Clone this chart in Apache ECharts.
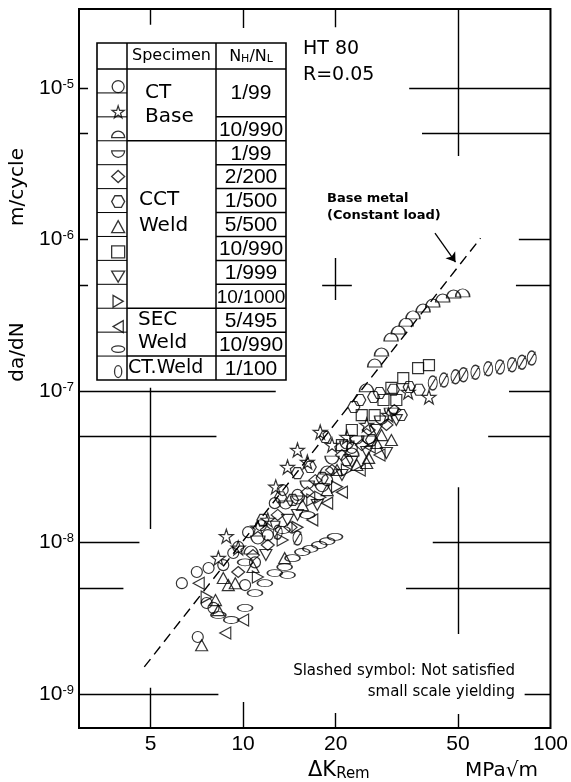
<!DOCTYPE html>
<html><head><meta charset="utf-8">
<script src="https://cdn.jsdelivr.net/npm/echarts@6/dist/echarts.min.js"></script>
<style>html,body{margin:0;padding:0;background:#fff}#c{width:571px;height:782px}</style>
</head><body><div id="c"></div><script>
// ---------- data ----------
const xTicks = [5, 10, 20, 50, 100];
const yTicks = [1e-9, 1e-8, 1e-7, 1e-6, 1e-5];

const ctBaseCircle = [[6.32,5.39e-9],[7.07,6.39e-9],[7.72,6.79e-9],[8.62,7.10e-9],[9.29,8.53e-9],[10.15,5.24e-9],[10.38,1.17e-8],[10.93,7.40e-9],[11.43,1.30e-8],[7.61,3.99e-9],[7.12,2.38e-9],[13.45,2.22e-8],[12.68,1.82e-8],[8.01,3.70e-9],[9.64,9.35e-9],[12.03,1.12e-8],[15.03,2.06e-8],[18.77,2.58e-8],[22.58,4.21e-8]];
const ctBaseStar = [[8.82,1.10e-8],[8.31,7.89e-9],[12.77,2.33e-8],[13.95,3.15e-8],[15.03,4.08e-8],[17.82,5.36e-8],[29.70,6.94e-8],[40.24,9.13e-8],[21.76,4.97e-8],[34.44,9.85e-8],[12.03,1.41e-8],[9.64,9.22e-9],[11.17,1.25e-8],[16.18,3.40e-8],[19.47,4.40e-8],[25.24,5.97e-8]];
const ctBaseDome = [[25.2,1.05e-7],[26.8,1.53e-7],[28.2,1.81e-7],[30.3,2.27e-7],[32.0,2.53e-7],[33.9,2.85e-7],[35.7,3.18e-7],[38.5,3.53e-7],[41.4,3.81e-7],[44.6,4.11e-7],[48.4,4.37e-7],[51.8,4.44e-7],[10.61,8.92e-9],[18.77,3.01e-8],[22.58,3.96e-8]];
const cctCup = [[11.17,1.04e-8],[13.75,1.77e-8],[16.18,2.40e-8],[19.47,3.50e-8],[23.44,4.75e-8],[28.20,6.43e-8],[12.49,1.30e-8],[15.03,1.91e-8],[18.08,2.30e-8],[21.76,4.40e-8],[25.62,4.75e-8],[30.37,7.26e-8]];
const cctDiamond = [[14.27,1.26e-8],[12.03,9.63e-9],[17.17,2.58e-8],[20.97,3.78e-8],[25.62,5.53e-8],[31.06,7.49e-8],[9.64,6.39e-9],[12.96,1.52e-8],[16.18,2.15e-8],[19.47,3.01e-8],[24.32,4.40e-8],[29.26,5.97e-8],[10.77,8.27e-9]];
const cctHexagon = [[15.03,2.87e-8],[16.54,3.15e-8],[18.49,4.97e-8],[22.92,7.84e-8],[23.96,8.72e-8],[26.58,9.13e-8],[27.78,9.70e-8],[30.83,1.02e-7],[34.70,1.063e-7],[37.36,1.02e-7],[13.25,1.99e-8],[11.60,1.41e-8],[14.48,1.91e-8],[18.08,2.67e-8],[21.76,3.50e-8],[26.18,4.75e-8],[32.70,6.94e-8]];
const cctTriUp = [[8.62,5.83e-9],[9.43,5.39e-9],[8.13,4.17e-9],[8.31,3.58e-9],[7.33,2.10e-9],[13.65,7.89e-9],[27.17,4.54e-8],[30.37,4.75e-8],[25.62,3.62e-8],[25.24,3.35e-8],[10.77,6.89e-9],[8.95,5.24e-9],[20.21,3.01e-8],[15.59,1.77e-8],[18.77,2.22e-8],[23.44,3.25e-8],[28.20,5.12e-8]];
const cctSquare = [[37.09,1.418e-7],[40.24,1.484e-7],[33.19,1.218e-7],[30.37,1.05e-7],[28.62,8.72e-8],[24.32,6.94e-8],[20.97,4.40e-8],[22.58,5.53e-8],[26.79,6.94e-8],[31.51,8.72e-8]];
const cctTriDown = [[29.26,3.90e-8],[17.43,1.77e-8],[15.03,1.52e-8],[22.58,3.40e-8],[11.86,8.27e-9],[27.17,5.53e-8],[13.95,1.41e-8],[20.97,2.79e-8],[25.24,3.96e-8],[31.51,6.43e-8]];
const cctTriRight = [[15.03,1.26e-8],[17.82,1.99e-8],[7.61,4.36e-9],[11.17,5.92e-9],[20.21,2.33e-8],[13.45,1.04e-8],[16.79,1.91e-8],[21.76,3.01e-8]];
const secTriLeft = [[7.17,5.39e-9],[10.0,3.08e-9],[8.75,2.53e-9],[23.96,3.01e-8],[25.81,4.27e-8],[16.79,1.41e-8],[18.77,1.82e-8],[20.97,2.15e-8],[27.78,3.78e-8]];
const secEllipse = [[9.15,3.08e-9],[10.15,3.70e-9],[10.93,4.64e-9],[11.77,5.39e-9],[12.68,6.29e-9],[13.65,6.89e-9],[14.48,7.89e-9],[15.59,8.66e-9],[16.54,9.09e-9],[17.69,9.63e-9],[18.77,1.02e-8],[19.91,1.09e-8],[10.15,7.40e-9],[13.95,6.10e-9],[8.31,3.32e-9],[13.45,1.21e-8],[16.18,1.52e-8]];
const ctWeldZero = [[41.4,1.13e-7],[45.0,1.18e-7],[49.1,1.24e-7],[52.1,1.28e-7],[57.0,1.33e-7],[62.7,1.40e-7],[68.5,1.44e-7],[75.0,1.49e-7],[80.8,1.55e-7],[86.9,1.65e-7],[12.96,1.17e-8],[15.03,1.07e-8]];

const baseMetalLine = [[4.77,1.51e-9],[59.2,1.02e-6]];
const arrowCoords = [[42.1,1.10e-6],[49.1,7.10e-7]];

// graph-paper cross segments [x1,y1,x2,y2] in data units
const gridSegments = [
  [2.925,1e-5,3.13,1e-5],[2.925,5e-6,3.13,5e-6],[2.925,1e-6,3.13,1e-6],[2.925,5e-7,3.13,5e-7],
  [2.925,1e-7,12.77,1e-7],[2.925,5e-8,8.19,5e-8],[2.925,1e-8,4.60,1e-8],[2.925,5e-9,4.08,5e-9],[2.925,1e-9,8.31,1e-9],
  [34.7,1e-5,100,1e-5],[38.2,5e-6,100,5e-6],[78.9,1e-6,100,1e-6],[77.2,5e-7,100,5e-7],[73.3,1e-7,100,1e-7],
  [62.7,5e-8,100,5e-8],[41.4,1e-8,100,1e-8],[33.9,5e-9,100,5e-9],[82.4,1e-9,100,1e-9],
  [5,3.32e-5,5,2.61e-5],[10,3.32e-5,10,2.49e-5],[20,3.32e-5,20,2.52e-5],[50,3.32e-5,50,3.56e-6],
  [5,5.97e-10,5,1.10e-9],[10,5.97e-10,10,8.86e-10],[20,5.97e-10,20,7.49e-10],[50,5.97e-10,50,7.38e-10],
  [5,1.05e-7,5,1.23e-8],[20,7.55e-7,20,3.99e-7],[18.08,5e-7,22.58,5e-7],[50,2.32e-8,50,2.49e-9]
];

const specimenNames = ['CT Base', 'CCT Weld', 'SEC Weld', 'CT.Weld'];
const ratioLabels = ['1/99','10/990','1/99','2/200','1/500','5/500','10/990','1/999','10/1000','5/495','10/990','1/100'];
const seriesNames = ['CT Base 1/99 circle','CT Base 1/99 star','CT Base 10/990','CCT Weld 1/99','CCT Weld 2/200','CCT Weld 1/500','CCT Weld 5/500','CCT Weld 10/990','CCT Weld 1/999','CCT Weld 10/1000','SEC Weld 5/495','SEC Weld 10/990','CT.Weld 1/100'];

// ---------- styling ----------
const SANS = "'Liberation Sans', Arial, sans-serif";
const WIDE = "'DejaVu Sans', sans-serif";
const SYM = {
  star: 'path://M10,0 L12.35,7.24 L19.51,7.24 L13.71,11.71 L15.88,19 L10,14.5 L4.12,19 L6.29,11.71 L0.49,7.24 L7.65,7.24 Z',
  dome: 'path://M0,10 A10,10 0 0 1 20,10 Z',
  cup: 'path://M0,0 A10,10 0 0 0 20,0 Z',
  hex: 'path://M5,0 L15,0 L20,9 L15,18 L5,18 L0,9 Z',
  triDown: 'path://M0,0 L20,0 L10,17 Z',
  triRight: 'path://M0,0 L17,10 L0,20 Z',
  triLeft: 'path://M17,0 L0,10 L17,20 Z',
  ellipse: 'path://M0,5 A10,5 0 1 1 20,5 A10,5 0 1 1 0,5 Z',
  zero: 'path://M6,0 A6,10 0 1 1 6,20 A6,10 0 1 1 6,0 Z M1,19 L11,1',
  zeroPlain: 'path://M6,0 A6,10 0 1 1 6,20 A6,10 0 1 1 6,0 Z'
};
const seriesDefs = [
  [ctBaseCircle,'circle',11],[ctBaseStar,SYM.star,14],[ctBaseDome,SYM.dome,[14,8]],
  [cctCup,SYM.cup,[14,8]],[cctDiamond,'diamond',[13,11]],[cctHexagon,SYM.hex,[12,11]],
  [cctTriUp,'triangle',[12,11]],[cctSquare,'rect',11],[cctTriDown,SYM.triDown,[12,11]],
  [cctTriRight,SYM.triRight,[11,12]],[secTriLeft,SYM.triLeft,[11,12]],[secEllipse,SYM.ellipse,[15,7]],
  [ctWeldZero,SYM.zero,[9,14]]
];

const series = seriesDefs.map((d, i) => ({
  type: 'scatter', name: seriesNames[i], data: d[0], symbol: d[1], symbolSize: d[2],
  itemStyle: { color: 'rgba(255,255,255,0)', borderColor: '#000', borderWidth: 1.2 },
  z: 4, silent: true
}));
series.push({
  type: 'line', name: 'Base metal (Constant load)', data: baseMetalLine, symbol: 'none',
  lineStyle: { color: '#000', width: 1.4, type: [10, 6] }, z: 3, silent: true
});
series.push({
  type: 'lines', coordinateSystem: 'cartesian2d', data: [{ coords: arrowCoords }],
  symbol: ['none', 'arrow'], symbolSize: 9, lineStyle: { color: '#000', width: 1.3, opacity: 1 }, z: 3, silent: true
});
series.push({
  type: 'lines', coordinateSystem: 'cartesian2d',
  data: gridSegments.map(s => ({ coords: [[s[0], s[1]], [s[2], s[3]]] })),
  lineStyle: { color: '#000', width: 1.4, opacity: 1 }, z: 2, silent: true
});

// ---------- legend table (graphic) ----------
const T = { x0: 97, x1: 127, x2: 216, x3: 286, y0: 43, yh: 69, y1: 380 };
const rowH = (T.y1 - T.yh) / 13;
const r = i => T.yh + rowH * i;
const g = [];
const L = (x1, y1, x2, y2, w) => g.push({ type: 'line', shape: { x1, y1, x2, y2 }, style: { stroke: '#000', lineWidth: w || 1.5 }, silent: true, z: 10 });
const Tx = (text, x, y, st, extra) => g.push(Object.assign({ type: 'text', x, y, silent: true, z: 10,
  style: Object.assign({ text, fill: '#000', fontSize: 20, fontFamily: WIDE, align: 'center', verticalAlign: 'middle' }, st) }, extra || {}));

g.push({ type: 'rect', shape: { x: T.x0, y: T.y0, width: T.x3 - T.x0, height: T.y1 - T.y0 }, style: { fill: '#fff', stroke: '#000', lineWidth: 1.6 }, z: 9, silent: true });
L(T.x1, T.y0, T.x1, T.y1); L(T.x2, T.y0, T.x2, T.y1);
L(T.x0, T.yh, T.x3, T.yh);
for (let i = 1; i < 13; i++) L(T.x0, r(i), T.x1, r(i), 1);
[3, 10, 12].forEach(i => L(T.x1, r(i), T.x2, r(i)));
for (let i = 2; i < 13; i++) L(T.x2, r(i), T.x3, r(i));

Tx('Specimen', (T.x1 + T.x2) / 2, (T.y0 + T.yh) / 2, { fontSize: 16 });
Tx('{a|N}{b|H}{a|/N}{b|L}', (T.x2 + T.x3) / 2, (T.y0 + T.yh) / 2 + 1, {
  rich: { a: { fontSize: 16, fontFamily: WIDE, verticalAlign: 'bottom' }, b: { fontSize: 11, fontFamily: WIDE, verticalAlign: 'bottom' } }
});
Tx('CT', 145, 93, { align: 'left' });
Tx('Base', 145, 117, { align: 'left' });
Tx('CCT', 139, 200, { align: 'left' });
Tx('Weld', 139, 226, { align: 'left' });
Tx('SEC', 138, 320, { align: 'left' });
Tx('Weld', 138, 343, { align: 'left' });
Tx(specimenNames[3], 128, r(12.5), { align: 'left', fontSize: 19 });
Tx(ratioLabels[0], (T.x2 + T.x3) / 2, r(1), { fontFamily: SANS, fontSize: 21 });
for (let k = 1; k < ratioLabels.length; k++) {
  Tx(ratioLabels[k], (T.x2 + T.x3) / 2, r(k + 1.5) + 1, { fontFamily: SANS, fontSize: ratioLabels[k].length > 6 ? 19 : 21 });
}

// annotations
Tx('HT 80', 303, 49, { align: 'left', fontSize: 19 });
Tx('R=0.05', 303, 75, { align: 'left', fontSize: 19 });
Tx('Base metal', 327, 199, { align: 'left', fontSize: 13, fontWeight: 'bold' });
Tx('(Constant load)', 327, 216, { align: 'left', fontSize: 13, fontWeight: 'bold' });
Tx('Slashed symbol: Not satisfied', 515, 671, { align: 'right', fontSize: 15 });
Tx('small scale yielding', 515, 692, { align: 'right', fontSize: 15 });
// axis titles
Tx('m/cycle', 18, 187, { fontSize: 20 }, { rotation: Math.PI / 2 });
Tx('da/dN', 18, 352, { fontSize: 20 }, { rotation: Math.PI / 2 });
Tx('{a|ΔK}{b|Rem}', 308, 771, { align: 'left', rich: { a: { fontSize: 21, fontFamily: WIDE, verticalAlign: 'bottom' }, b: { fontSize: 15, fontFamily: WIDE, verticalAlign: 'bottom' } } });
Tx('MPa√m', 465, 771, { align: 'left', fontSize: 20 });

// ---------- chart ----------
const legendData = seriesNames.map((n, i) => i === 12 ? { name: n, icon: SYM.zeroPlain } : { name: n });
const chart = echarts.init(document.getElementById('c'), null, { renderer: 'canvas' });
chart.setOption({
  animation: false,
  backgroundColor: '#fff',
  grid: { left: 79, right: 15, top: 9, bottom: 54, show: true, borderColor: '#000', borderWidth: 2, backgroundColor: 'transparent' },
  xAxis: {
    type: 'log', logBase: 10, min: 2.925, max: 100,
    axisLine: { show: false }, axisTick: { show: false }, splitLine: { show: false }, minorTick: { show: false }, minorSplitLine: { show: false },
    axisLabel: { customValues: xTicks, formatter: v => String(Math.round(v)), color: '#000', fontSize: 21, fontFamily: SANS, margin: 6, showMinLabel: true, showMaxLabel: true }
  },
  yAxis: {
    type: 'log', logBase: 10, min: 5.97e-10, max: 3.32e-5,
    axisLine: { show: false }, axisTick: { show: false }, splitLine: { show: false }, minorTick: { show: false }, minorSplitLine: { show: false },
    axisLabel: {
      customValues: yTicks, margin: 5, color: '#000',
      formatter: v => '{b|10}{s|' + Math.round(Math.log10(v)) + '}',
      rich: { b: { fontSize: 21, fontFamily: SANS, verticalAlign: 'bottom', color: '#000' }, s: { fontSize: 13, fontFamily: SANS, verticalAlign: 'top', color: '#000' } }
    }
  },
  legend: {
    data: legendData, orient: 'vertical', left: 106, top: r(0.5) - 6,
    itemWidth: 13, itemHeight: 12, itemGap: rowH - 12, selectedMode: false,
    formatter: () => '', textStyle: { fontSize: 1, lineHeight: 12 }, z: 20,
    itemStyle: { color: 'rgba(255,255,255,0)', borderColor: '#000', borderWidth: 1.3 }
  },
  graphic: g,
  series
});
</script></body></html>
